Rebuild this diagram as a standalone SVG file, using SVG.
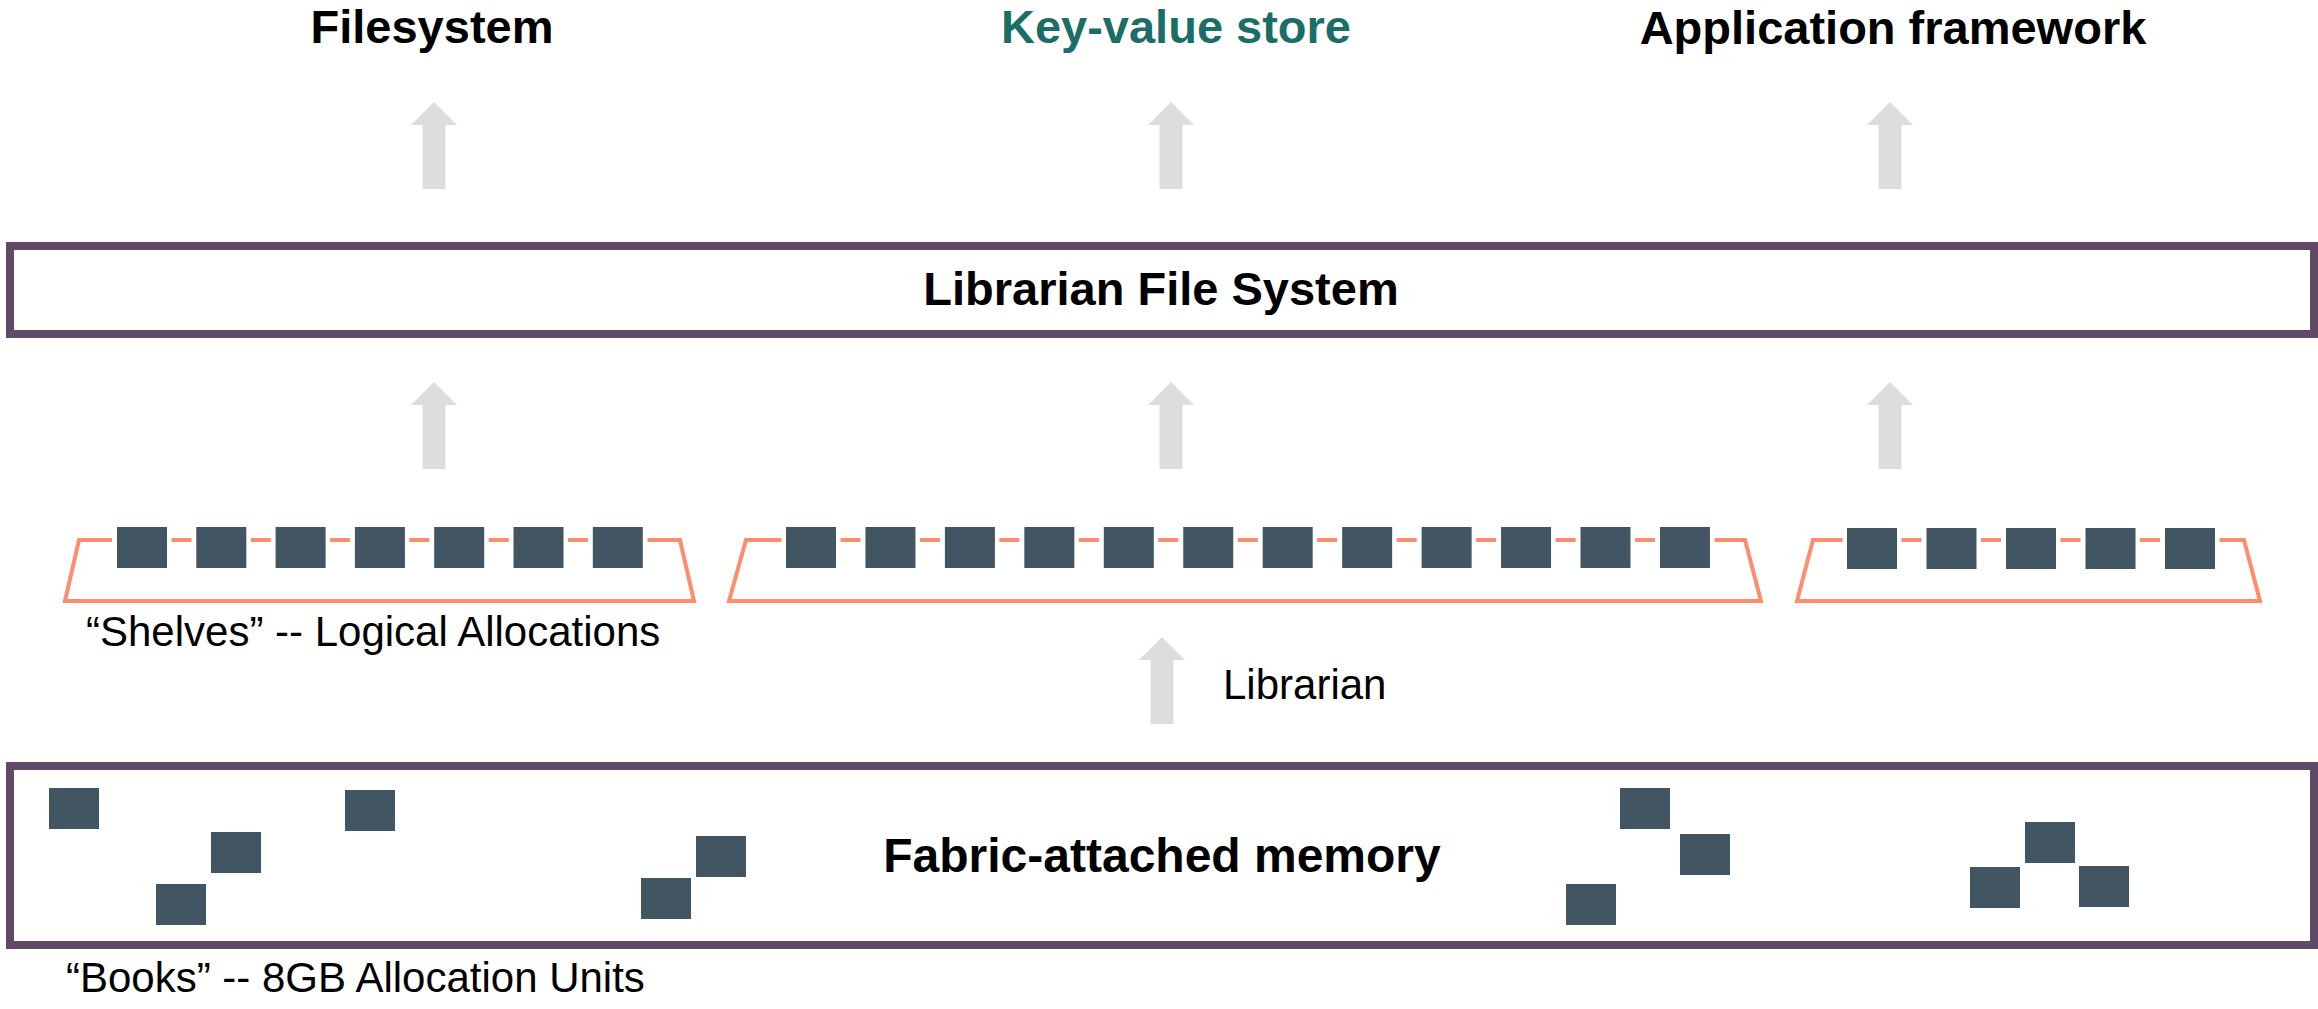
<svg xmlns="http://www.w3.org/2000/svg" xmlns:xlink="http://www.w3.org/1999/xlink" width="2318" height="1009" viewBox="0 0 2318 1009">
  <style>
    .title { font-family: "Liberation Sans", Arial, sans-serif; font-weight: bold; font-size: 47px; fill: #000; }
    .kv { fill: #1b6e68; }
    .label { font-family: "Liberation Sans", Arial, sans-serif; font-size: 42px; fill: #000; }
    .layer { fill: #fff; stroke: #614a68; stroke-width: 8; }
    .shelf { fill: none; stroke: #ff8d6d; stroke-width: 4; }
    .book { fill: #425563; }
    .uparrow { fill: #dcdedd; }
  </style>
  <defs>
    <!-- block arrow, tip at origin, pointing up -->
    <path id="up" d="M0,0 L23,23 L11.5,23 L11.5,87 L-11.5,87 L-11.5,23 L-23,23 Z"/>
    <rect id="bk" width="50" height="41"/>
  </defs>

  <rect width="2318" height="1009" fill="#fff"/>

  <!-- consumers -->
  <g id="filesystem"><text class="title" x="432" y="43" text-anchor="middle">Filesystem</text></g>
  <g id="kv-store"><text class="title kv" x="1176" y="43" text-anchor="middle">Key-value store</text></g>
  <g id="app-framework"><text class="title" x="1893" y="44" text-anchor="middle">Application framework</text></g>

  <!-- Librarian File System layer -->
  <g id="lfs">
    <rect class="layer" x="10" y="246" width="2304" height="88"/>
    <text class="title" x="1161" y="305" text-anchor="middle">Librarian File System</text>
  </g>

  <!-- shelf 1: 7 books -->
  <g id="shelf-1">
    <path class="shelf" d="M112,540 L79,540 L65,601 L694,601 L680,540 L647.5,540
      M171.5,540 H191.5 M250.8,540 H270.8 M330.1,540 H350.1 M409.4,540 H429.4 M488.7,540 H508.7 M568,540 H588"/>
    <g class="book">
      <use xlink:href="#bk" x="117" y="527"/>
      <use xlink:href="#bk" x="196.3" y="527"/>
      <use xlink:href="#bk" x="275.6" y="527"/>
      <use xlink:href="#bk" x="354.9" y="527"/>
      <use xlink:href="#bk" x="434.2" y="527"/>
      <use xlink:href="#bk" x="513.5" y="527"/>
      <use xlink:href="#bk" x="592.8" y="527"/>
    </g>
    <text class="label" x="86" y="646">“Shelves” -- Logical Allocations</text>
  </g>

  <!-- shelf 2: 12 books -->
  <g id="shelf-2">
    <path class="shelf" d="M781.5,540 L746,540 L729,601 L1761,601 L1745,540 L1714.5,540
      M840.5,540 H860.5 M920,540 H940 M999.4,540 H1019.4 M1078.9,540 H1098.9 M1158.3,540 H1178.3 M1237.8,540 H1257.8
      M1317.2,540 H1337.2 M1396.7,540 H1416.7 M1476.1,540 H1496.1 M1555.6,540 H1575.6 M1635,540 H1655"/>
    <g class="book">
      <use xlink:href="#bk" x="786" y="527"/>
      <use xlink:href="#bk" x="865.45" y="527"/>
      <use xlink:href="#bk" x="944.9" y="527"/>
      <use xlink:href="#bk" x="1024.35" y="527"/>
      <use xlink:href="#bk" x="1103.8" y="527"/>
      <use xlink:href="#bk" x="1183.25" y="527"/>
      <use xlink:href="#bk" x="1262.7" y="527"/>
      <use xlink:href="#bk" x="1342.15" y="527"/>
      <use xlink:href="#bk" x="1421.6" y="527"/>
      <use xlink:href="#bk" x="1501.05" y="527"/>
      <use xlink:href="#bk" x="1580.5" y="527"/>
      <use xlink:href="#bk" x="1659.95" y="527"/>
    </g>
  </g>

  <!-- shelf 3: 5 books -->
  <g id="shelf-3">
    <path class="shelf" d="M1842.5,540 L1813,540 L1797,601 L2260,601 L2244,540 L2219.5,540
      M1901.5,540 H1921.5 M1981,540 H2001 M2060.5,540 H2080.5 M2140,540 H2160"/>
    <g class="book">
      <use xlink:href="#bk" x="1847" y="528"/>
      <use xlink:href="#bk" x="1926.5" y="528"/>
      <use xlink:href="#bk" x="2006" y="528"/>
      <use xlink:href="#bk" x="2085.5" y="528"/>
      <use xlink:href="#bk" x="2165" y="528"/>
    </g>
  </g>

  <!-- Fabric-attached memory layer with scattered books -->
  <g id="fam">
    <rect class="layer" x="10" y="766" width="2304" height="179"/>
    <text class="title" x="1162" y="872" text-anchor="middle" style="font-size:48px">Fabric-attached memory</text>
    <g class="book">
      <use xlink:href="#bk" x="49" y="788"/>
      <use xlink:href="#bk" x="211" y="832"/>
      <use xlink:href="#bk" x="156" y="884"/>
      <use xlink:href="#bk" x="345" y="790"/>
      <use xlink:href="#bk" x="696" y="836"/>
      <use xlink:href="#bk" x="641" y="878"/>
      <use xlink:href="#bk" x="1620" y="788"/>
      <use xlink:href="#bk" x="1680" y="834"/>
      <use xlink:href="#bk" x="1566" y="884"/>
      <use xlink:href="#bk" x="2025" y="822"/>
      <use xlink:href="#bk" x="1970" y="867"/>
      <use xlink:href="#bk" x="2079" y="866"/>
    </g>
  </g>
  <g id="books-caption"><text class="label" x="66" y="992">“Books” -- 8GB Allocation Units</text></g>

  <!-- connectors -->
  <g id="connectors" class="uparrow">
    <use xlink:href="#up" x="434" y="102"/>
    <use xlink:href="#up" x="1171" y="102"/>
    <use xlink:href="#up" x="1890" y="102"/>
    <use xlink:href="#up" x="434" y="382"/>
    <use xlink:href="#up" x="1171" y="382"/>
    <use xlink:href="#up" x="1890" y="382"/>
    <use xlink:href="#up" x="1162" y="637" transform="translate(0,0)"/>
    <text class="label" x="1223" y="699">Librarian</text>
  </g>
</svg>
